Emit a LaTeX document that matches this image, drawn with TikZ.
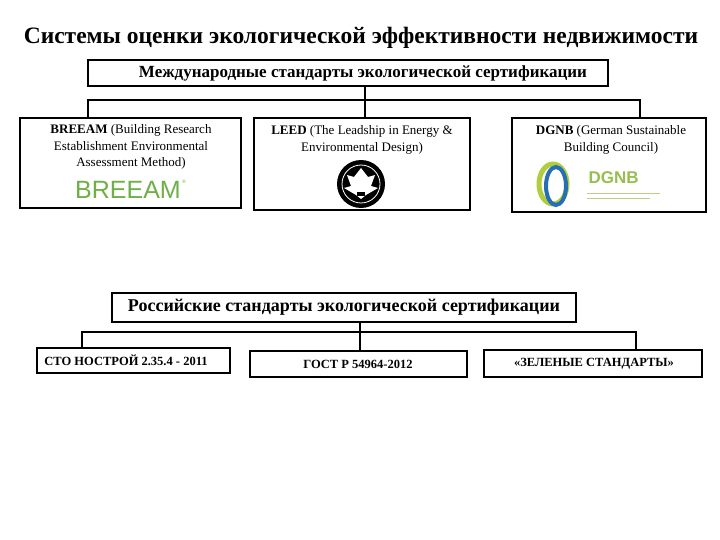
\documentclass[tikz,border=0pt]{standalone}
\usepackage{fontspec}
\setmainfont{Liberation Serif}
\newfontfamily\logofont{Liberation Sans}
\definecolor{breeam}{RGB}{110,175,70}
\definecolor{dblue}{RGB}{40,110,180}
\definecolor{dgreen}{RGB}{175,205,60}
\definecolor{dtext}{RGB}{150,190,80}
\begin{document}
\begin{tikzpicture}[x=1pt,y=-1pt,
  box/.style={draw,line width=1.6pt,inner sep=0pt},
  conn/.style={line width=1.6pt},
  txt/.style={align=center,font=\fontsize{13}{16.5}\selectfont}]
\useasboundingbox (0,0) rectangle (720,540);
\node[font=\bfseries\fontsize{23.5}{26}\selectfont] (title) at (361,38) {Системы оценки экологической эффективности недвижимости};
% international
\draw[box] (88,60) rectangle (608,86);
\node[font=\bfseries\fontsize{17}{19}\selectfont] (int) at (363,73) {Международные стандарты экологической сертификации};
\draw[box] (20,118) rectangle (241,208);
\draw[box] (254,118) rectangle (470,210);
\draw[box] (512,118) rectangle (706,212);
\draw[conn] (365,86) -- (365,100);
\draw[conn] (88,118) -- (88,100) -- (640,100) -- (640,118);
\draw[conn] (365,100) -- (365,118);
\node[txt] (breeam) at (131,147) {\textbf{BREEAM} (Building Research\\Establishment Environmental\\Assessment Method)};
\node[font=\logofont\fontsize{25}{26}\selectfont,text=breeam] (blogo) at (128,190) {BREEAM};
\node[font=\logofont\fontsize{5}{5}\selectfont,text=breeam] at (184,182) {\textregistered};
\node[txt] (leed) at (362,140) {\textbf{LEED} (The Leadship in Energy \&\\Environmental Design)};
\fill (361,184) circle (24);
\draw[white,line width=0.8pt] (361,184) circle (19);
\fill[white] (361,168) -- (368,177) -- (375,175) -- (371,186) -- (378,188) -- (366,195) -- (361,199) -- (356,195) -- (344,188) -- (351,186) -- (347,175) -- (354,177) -- cycle;
\fill[black] (357,192) rectangle (365,196);
\node[txt] (dgnb) at (611,140) {\textbf{DGNB} (German Sustainable\\Building Council)};
\draw[dgreen,line width=5pt] (553,184) ellipse (14 and 20);
\draw[dblue,line width=4pt] (556,186) ellipse (10 and 19);
\node[font=\logofont\bfseries\fontsize{17}{18}\selectfont,text=dtext,anchor=west] (dlogo) at (585,178) {DGNB};
\draw[dtext!70,line width=1pt] (587,194) -- (660,194);
\draw[dtext!70,line width=0.6pt] (587,198) -- (650,198);
% russian
\draw[box] (112,293) rectangle (576,322);
\node[font=\bfseries\fontsize{18}{20}\selectfont] (rus) at (344,307) {Российские стандарты экологической сертификации};
\draw[conn] (360,322) -- (360,332);
\draw[conn] (82,348) -- (82,332) -- (636,332) -- (636,350);
\draw[conn] (360,332) -- (360,351);
\draw[box] (37,348) rectangle (230,373);
\draw[box] (250,351) rectangle (467,377);
\draw[box] (484,350) rectangle (702,377);
\node[font=\bfseries\fontsize{12.5}{15}\selectfont] (s1) at (126,360) {СТО НОСТРОЙ 2.35.4 - 2011};
\node[font=\bfseries\fontsize{12.5}{15}\selectfont] (s2) at (358,364) {ГОСТ Р 54964-2012};
\node[font=\bfseries\fontsize{12.5}{15}\selectfont] (s3) at (594,364) {«ЗЕЛЕНЫЕ СТАНДАРТЫ»};
\end{tikzpicture}
\end{document}
